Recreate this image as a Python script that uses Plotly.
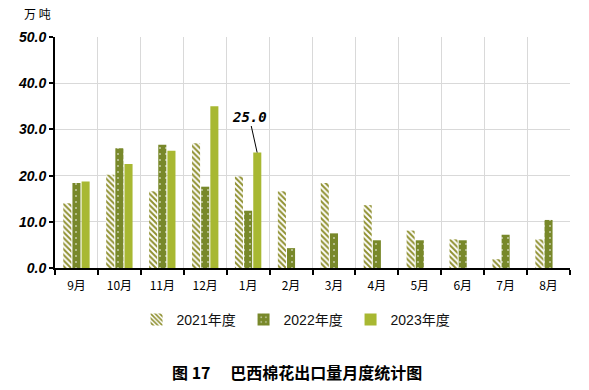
import plotly.graph_objects as go

months = ["9月", "10月", "11月", "12月", "1月", "2月", "3月", "4月", "5月", "6月", "7月", "8月"]
y2021 = [14.0, 20.2, 16.6, 27.0, 19.8, 16.6, 18.4, 13.6, 8.1, 6.2, 1.9, 6.2]
y2022 = [18.4, 25.9, 26.7, 17.6, 12.4, 4.3, 7.5, 6.0, 6.0, 6.0, 7.2, 10.4]
y2023 = [18.7, 22.5, 25.4, 35.0, 25.0, None, None, None, None, None, None, None]
yticks = [0, 10, 20, 30, 40, 50]
yticklabels = ["0.0", "10.0", "20.0", "30.0", "40.0", "50.0"]

fig = go.Figure()
fig.add_trace(go.Bar(
    name="2021年度", x=months, y=y2021,
    marker=dict(color="#9a9a32", line=dict(width=0),
                pattern=dict(shape="\\", fgcolor="#8f9030", bgcolor="#ffffff",
                             size=4, solidity=0.5, fillmode="replace")),
))
fig.add_trace(go.Bar(
    name="2022年度", x=months, y=y2022,
    marker=dict(color="#7a8a2a", line=dict(width=0),
                pattern=dict(shape=".", fgcolor="#ffffff", bgcolor="#78882a",
                             size=6, solidity=0.06, fillmode="replace")),
))
fig.add_trace(go.Bar(
    name="2023年度", x=months, y=y2023,
    marker=dict(color="#a8b832", line=dict(width=0)),
))

fig.update_layout(
    width=589, height=390,
    margin=dict(l=55, r=19, t=37, b=122),
    paper_bgcolor="#ffffff", plot_bgcolor="#ffffff",
    barmode="group", bargap=0.36, bargroupgap=0.12,
    showlegend=True,
    legend=dict(orientation="h", x=0.47, xanchor="center", y=-0.225, yanchor="middle",
                font=dict(family="Liberation Sans, Noto Sans CJK SC", size=14, color="#111111"),
                itemwidth=30, entrywidth=62, traceorder="normal"),
    xaxis=dict(
        type="category", tickson="boundaries", showgrid=True, gridcolor="#d9d9d9", gridwidth=1,
        showline=True, linecolor="#000000", linewidth=2,
        ticks="outside", ticklen=5, tickcolor="#000000", tickwidth=2,
        ticklabelstandoff=6,
        tickfont=dict(family="Noto Sans CJK SC", size=12, color="#000000"),
        fixedrange=True,
    ),
    yaxis=dict(
        range=[0, 50], tickvals=yticks, ticktext=yticklabels,
        showgrid=True, gridcolor="#d9d9d9", gridwidth=1,
        showline=True, linecolor="#000000", linewidth=2, zeroline=False,
        ticks="outside", ticklen=4, tickcolor="#000000", tickwidth=2,
        tickfont=dict(family="Liberation Sans", size=14, color="#000000", weight="bold", style="italic"),
        fixedrange=True,
    ),
    annotations=[
        dict(x="1月", y=25.0, xref="x", yref="y", xshift=9,
             text="<b><i>25.0</i></b>", showarrow=True, arrowhead=0, arrowwidth=1,
             arrowcolor="#000000", ax=-8, ay=-36,
             font=dict(family="DejaVu Sans Mono", size=14, color="#000000")),
        dict(x=-0.065, y=1.1, xref="paper", yref="paper", xanchor="left", yanchor="middle",
             text="万 吨", showarrow=False,
             font=dict(family="Noto Sans CJK SC", size=12, color="#000000")),
        dict(x=0.47, y=-0.45, xref="paper", yref="paper", xanchor="center", yanchor="middle",
             text="<b>图 17　 巴西棉花出口量月度统计图</b>", showarrow=False,
             font=dict(family="Noto Sans CJK SC", size=16, color="#000000")),
    ],
)

fig.write_html("out.html", config={"displayModeBar": False},
               post_script="document.body.style.margin='0';")
